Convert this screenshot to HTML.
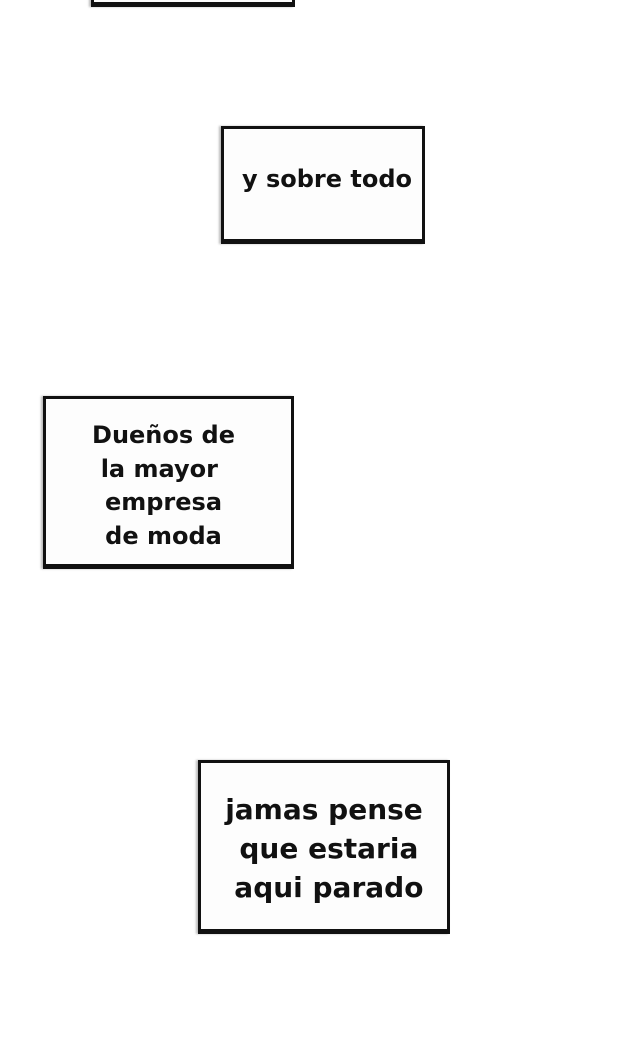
<!DOCTYPE html>
<html><head><meta charset="utf-8"><style>
body{margin:0;width:620px;height:1041px;background:#fff;position:relative;overflow:hidden;font-family:"DejaVu Sans",sans-serif;font-weight:bold;color:#111}
.b{position:absolute;box-sizing:border-box;border:3px solid #111;border-bottom-width:5px;background:#fdfdfd;box-shadow:-2px 0 2px #bbb}
.t{position:absolute;left:0;right:0;text-align:center;white-space:nowrap}
</style></head><body>
<div class="b" style="left:91px;top:-10px;width:204px;height:17px"></div>
<div class="b" style="left:221px;top:126px;width:204px;height:118px">
<div class="t" style="top:36px;font-size:24px;left:8px">y sobre todo</div></div>
<div class="b" style="left:43px;top:396px;width:251px;height:173px">
<div class="t" style="top:20px;font-size:24px;line-height:33.5px;left:-10px">Dueños de<br>la mayor&nbsp;<br>empresa<br>de moda</div></div>
<div class="b" style="left:198px;top:760px;width:252px;height:174px">
<div class="t" style="top:27px;font-size:28px;line-height:39px">jamas pense<br>&nbsp;que estaria<br>&nbsp;aqui parado</div></div>
</body></html>
